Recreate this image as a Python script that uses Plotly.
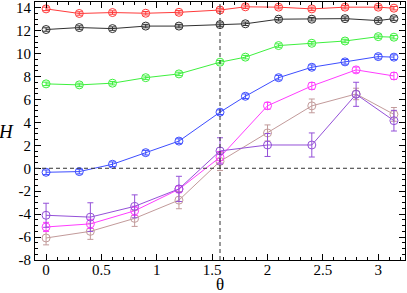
import math
import plotly.graph_objects as go

PI = math.pi

# Data
theta_a = [0, 0.3, 0.6, 0.9, 1.2, PI / 2, 1.8, 2.1, 2.4, 2.7, 3.0, PI]
H_red = [13.9, 13.5, 13.58, 13.52, 13.6, 13.8, 14.08, 14.05, 13.9, 14.05, 14.05, 13.96]
E_red = [0.15] * 12
H_black = [12.1, 12.27, 12.18, 12.4, 12.4, 12.53, 12.6, 13.0, 13.0, 13.05, 12.88, 13.05]
E_black = [0.15] * 12
H_green = [7.36, 7.27, 7.42, 7.9, 8.23, 9.25, 9.69, 10.7, 10.9, 11.1, 11.48, 11.43]
E_green = [0.15] * 12
H_blue = [-0.35, -0.29, 0.35, 1.36, 2.37, 4.89, 6.28, 7.9, 8.81, 9.28, 9.74, 9.69]
E_blue = [0.2] * 12

theta_b = [0, 0.4, 0.8, 1.2, PI / 2, 2.0, 2.4, 2.8, PI]
H_magenta = [-5.12, -4.85, -3.71, -1.83, 0.96, 5.45, 7.18, 8.58, 8.05]
E_magenta = [0.4, 0.4, 0.4, 0.3, 0.5, 0.3, 0.3, 0.25, 0.3]
H_brown = [-6.08, -5.5, -4.37, -2.78, 0.6, 3.08, 5.44, 6.48, 4.7]
E_brown = [0.6, 0.7, 0.7, 0.75, 0.8, 0.7, 0.6, 0.5, 0.6]
H_purple = [-4.1, -4.26, -3.32, -1.8, 1.51, 2.03, 2.03, 6.45, 4.15]
E_purple = [1.05, 1.25, 1.0, 1.1, 1.15, 1.0, 1.05, 1.05, 0.9]

x_ticks = [0, 0.5, 1, 1.5, 2, 2.5, 3]
y_ticks = [-8, -6, -4, -2, 0, 2, 4, 6, 8, 10, 12, 14]

SERIF = '"Liberation Serif", "Times New Roman", "DejaVu Serif", serif'

series = [
    (theta_a, H_red, E_red, "#ff3a3a"),
    (theta_a, H_black, E_black, "#303030"),
    (theta_a, H_green, E_green, "#3ef03e"),
    (theta_a, H_blue, E_blue, "#3d4dff"),
    (theta_b, H_brown, E_brown, "#c29a9a"),
    (theta_b, H_magenta, E_magenta, "#ff3cff"),
    (theta_b, H_purple, E_purple, "#9450d8"),
]

fig = go.Figure()

# reference dashed lines
fig.add_shape(type="line", xref="x", yref="paper", x0=PI / 2, x1=PI / 2, y0=0, y1=1,
              line=dict(color="#333333", width=1, dash="4px,3px"))
fig.add_shape(type="line", xref="paper", yref="y", x0=0, x1=1, y0=0, y1=0,
              line=dict(color="#333333", width=1, dash="4px,3px"))

for x, y, e, c in series:
    fig.add_trace(go.Scatter(
        x=x, y=y, mode="lines+markers",
        line=dict(color=c, width=1),
        marker=dict(symbol="circle-open", size=8, color=c, line=dict(width=1, color=c)),
        error_y=dict(type="data", array=e, visible=True, color=c, thickness=1, width=3),
        showlegend=False,
    ))

axis_common = dict(
    showline=True, linecolor="black", linewidth=1, mirror="allticks",
    ticks="inside", ticklen=6, tickcolor="black", tickwidth=1,
    showgrid=False, zeroline=False, automargin=False,
    ticklabeloverflow="allow",
    tickfont=dict(family=SERIF, size=15, color="black"),
)

fig.update_xaxes(
    range=[-0.1, PI + 0.1], tickvals=x_ticks, ticktext=[str(v) for v in x_ticks],
    minor=dict(ticks="inside", dtick=0.1, ticklen=3, tickcolor="black"),
    ticklabelstandoff=-4,
    **axis_common,
)
fig.update_yaxes(
    range=[-8, 14.5], tickvals=y_ticks, ticktext=[str(v) for v in y_ticks],
    minor=dict(ticks="inside", dtick=0.5, ticklen=3, tickcolor="black"),
    **axis_common,
)

fig.update_layout(
    template="none",
    width=407, height=293,
    margin=dict(l=35, r=2, t=2, b=33, autoexpand=False),
    font=dict(family=SERIF, size=15, color="black"),
    paper_bgcolor="white", plot_bgcolor="white",
    annotations=[
        dict(text="θ", xref="paper", yref="paper", x=0.5, y=0, yshift=-13,
             xanchor="center", yanchor="top", showarrow=False,
             font=dict(family=SERIF, size=17, color="black")),
        dict(text="<i>H</i>", xref="paper", yref="paper", x=0, y=0.5, xshift=-19,
             xanchor="right", yanchor="middle", showarrow=False,
             font=dict(family=SERIF, size=19, color="black")),
    ],
)

fig.write_html(
    "out.html",
    config={"displayModeBar": False},
    post_script="document.body.style.margin='0';document.body.style.padding='0';",
)
